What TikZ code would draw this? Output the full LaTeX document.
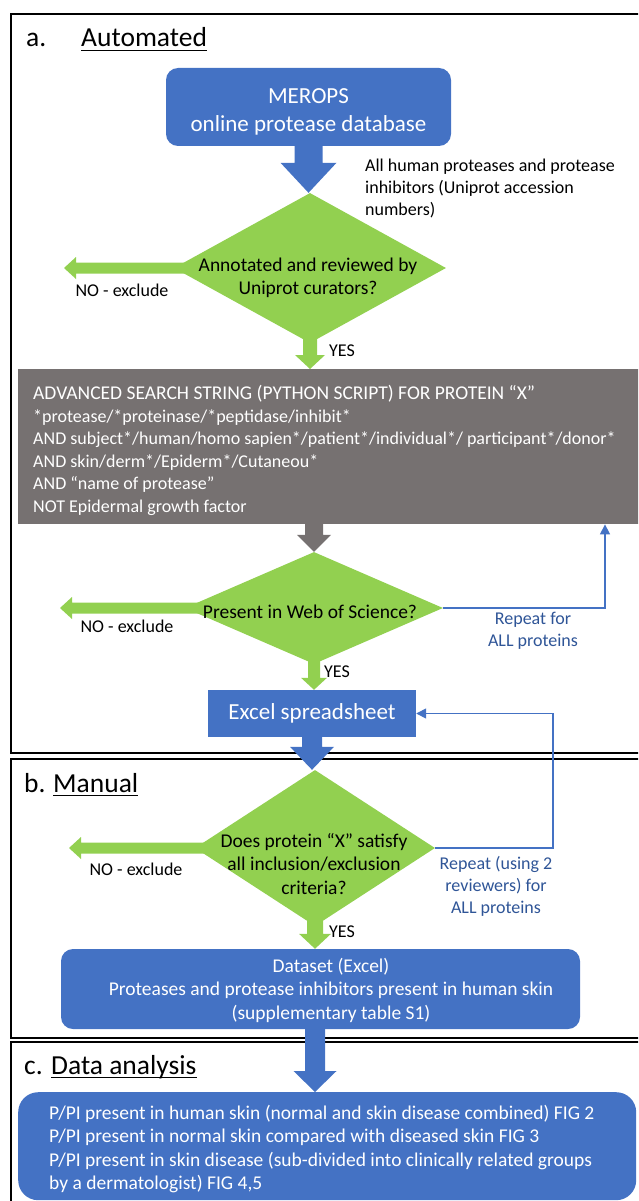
\documentclass[tikz,border=0pt]{standalone}
\usepackage{fontspec}
\setmainfont{Carlito}
\usetikzlibrary{shapes.geometric,calc,arrows.meta}
\definecolor{oblue}{HTML}{4472C4}
\definecolor{ogreen}{HTML}{92D050}
\definecolor{ogray}{HTML}{767171}
\definecolor{tblue}{HTML}{2F5597}
% down block arrow: #1 start, #2 tip, #3 colour, #4 half shaft, #5 half head, #6 head length
\newcommand\blkdown[6]{\fill[#3] let \p1=(#1), \p2=(#2) in
  (\x1-#4,\y1) -- (\x1+#4,\y1) -- (\x1+#4,\y2+#6) -- (\x1+#5,\y2+#6) -- (\x1,\y2)
  -- (\x1-#5,\y2+#6) -- (\x1-#4,\y2+#6) -- cycle;}
% left block arrow: #1 start (right end), #2 tip
\newcommand\blkleft[6]{\fill[#3] let \p1=(#1), \p2=(#2) in
  (\x1,\y2+#4) -- (\x2+#6,\y2+#4) -- (\x2+#6,\y2+#5) -- (\x2,\y2)
  -- (\x2+#6,\y2-#5) -- (\x2+#6,\y2-#4) -- (\x1,\y2-#4) -- cycle;}
\begin{document}
\begin{tikzpicture}[x=1pt,y=-1pt,
  frame/.style={draw=black,line width=1.6pt},
  title/.style={inner sep=0pt,anchor=base west,font=\fontsize{27.5pt}{33pt}\selectfont},
  uline/.style={line width=1.6pt},
  bluebox/.style={fill=oblue,text=white,inner sep=0pt,align=center},
  dia/.style={diamond,fill=ogreen,inner sep=0pt},
  dtext/.style={inner sep=0pt,align=center,font=\fontsize{19.5pt}{23.5pt}\selectfont},
  small/.style={inner sep=0pt,align=left,font=\fontsize{18pt}{22pt}\selectfont},
  rep/.style={inner sep=0pt,align=center,text=tblue,font=\fontsize{18pt}{22pt}\selectfont},
  fb/.style={draw=oblue,line width=1.5pt,-{Triangle[length=10pt,width=10pt]}},
]
\useasboundingbox (0,0) rectangle (638,1201);
\clip (0,0) rectangle (638,1201);

% section frames
\draw[frame] (11,14) rectangle (700,753);
\draw[frame] (11,759) rectangle (700,1038);
\draw[frame] (11,1042) rectangle (700,1260);

% titles
\node[title] (ta) at (26,47) {a.};
\node[title] (tauto) at (81,47) {Automated};
\draw[uline] ($(tauto.base west)+(0,3.5)$) -- ($(tauto.base east)+(0,3.5)$);
\node[title] (tb) at (24,792) {b.};
\node[title] (tman) at (53,792) {Manual};
\draw[uline] ($(tman.base west)+(0,3.5)$) -- ($(tman.base east)+(0,3.5)$);
\node[title] (tc) at (24,1074) {c.};
\node[title] (tdata) at (51,1074) {Data analysis};
\draw[uline] ($(tdata.base west)+(0,3.5)$) -- ($(tdata.base east)+(0,3.5)$);

% nodes
\node[bluebox,rounded corners=12pt,minimum width=285pt,minimum height=78pt] (merops) at (308.5,107) {};
\node[bluebox,fill=none,font=\fontsize{23pt}{28pt}\selectfont] (meropst) at (308.5,112) {MEROPS\\online protease database};
\node[small,anchor=north west] (anno) at (365,159) {All human proteases and protease\\inhibitors (Uniprot accession\\numbers)};

\node[dia,minimum width=272pt,minimum height=150pt] (d1) at (310,268) {};
\node[dtext] (d1t) at (308,278) {Annotated and reviewed by\\Uniprot curators?};

\node[fill=ogray,anchor=north west,minimum width=640pt,minimum height=155pt,inner sep=0pt] (gray) at (18,369) {};
\node[text=white,anchor=west,inner sep=0pt,align=left,
  font=\fontsize{18pt}{22.5pt}\selectfont] (grayt) at (33,450.5)
  {{\fontsize{19.5pt}{22.5pt}\selectfont ADVANCED SEARCH STRING (PYTHON SCRIPT) FOR PROTEIN “X”}\\
   {}*protease/*proteinase/*peptidase/inhibit*\\
   AND subject*/human/homo sapien*/patient*/individual*/ participant*/donor*\\
   AND skin/derm*/Epiderm*/Cutaneou*\\
   AND “name of protease”\\
   NOT Epidermal growth factor};

\node[dia,minimum width=258pt,minimum height=112pt] (d2) at (314,608) {};
\node[dtext] (d2t) at (310,612) {Present in Web of Science?};

\node[bluebox,minimum width=208pt,minimum height=47pt,
  font=\fontsize{23pt}{28pt}\selectfont] (excel) at (312,713.5) {Excel spreadsheet};

\node[dia,minimum width=240pt,minimum height=156pt] (d3) at (315,848) {};
\node[dtext] (d3t) at (314,864) {Does protein “X” satisfy\\all inclusion/exclusion\\criteria?};

\node[bluebox,rounded corners=12pt,minimum width=519pt,minimum height=80pt] (dataset) at (320.5,989) {};
\node[dtext,text=white] (datasett) at (331,990) {Dataset (Excel)\\Proteases and protease inhibitors present in human skin\\(supplementary table S1)};

\node[bluebox,rounded corners=20pt,anchor=north west,minimum width=618pt,minimum height=108pt] (analysis) at (18,1092) {};
\node[dtext,text=white,align=left,anchor=west] (analysist) at (49,1149)
  {P/PI present in human skin (normal and skin disease combined) FIG 2\\
   P/PI present in normal skin compared with diseased skin FIG 3\\
   P/PI present in skin disease (sub-divided into clinically related groups\\
   by a dermatologist) FIG 4,5};

% exclusion tips
\coordinate (no1) at (64,268);
\coordinate (no2) at (60,608);
\coordinate (no3) at (69,848);
\coordinate (r1) at (605,0);
\coordinate (r2) at (553,0);

% block arrows
\blkdown{merops.south}{d1.north}{oblue}{14pt}{28pt}{30pt}
\blkleft{$(d1.west)+(14,0)$}{no1}{ogreen}{5.5pt}{11pt}{12pt}
\blkdown{$(d1.south)+(0,-14)$}{d1.south |- gray.north}{ogreen}{7pt}{15pt}{14pt}
\blkdown{$(d2.north |- gray.south)+(0,-1)$}{d2.north}{ogray}{9pt}{17pt}{17pt}
\blkleft{$(d2.west)+(14,0)$}{no2}{ogreen}{5.5pt}{11pt}{12pt}
\blkdown{$(d2.south)+(0,-14)$}{d2.south |- excel.north}{ogreen}{6pt}{13pt}{12pt}
\blkdown{excel.south}{excel.south |- d3.north}{oblue}{10pt}{22pt}{23pt}
\blkleft{$(d3.west)+(14,0)$}{no3}{ogreen}{5.5pt}{11pt}{12pt}
\blkdown{$(d3.south)+(0,-14)$}{d3.south |- dataset.north}{ogreen}{8pt}{16pt}{15pt}
\blkdown{$(d3.south |- dataset.south)+(0,-1)$}{d3.south |- analysis.north}{oblue}{10pt}{21.5pt}{21pt}

% labels
\node[small] (no1t) at (122,290) {NO - exclude};
\node[small] (no2t) at (127,626) {NO - exclude};
\node[small] (no3t) at (136,869) {NO - exclude};
\node[small] (yes1) at (342,351) {YES};
\node[small] (yes2) at (337,672) {YES};
\node[small] (yes3) at (342,932) {YES};

% feedback loops
\draw[fb] (d2.east) -| (r1 |- gray.south);
\draw[fb] (d3.east) -| (r2 |- excel.east) -- (excel.east);
\node[rep] (rep1) at (533,631) {Repeat for\\ALL proteins};
\node[rep] (rep2) at (496,886) {Repeat (using 2\\reviewers) for\\ALL proteins};
\end{tikzpicture}
\end{document}
